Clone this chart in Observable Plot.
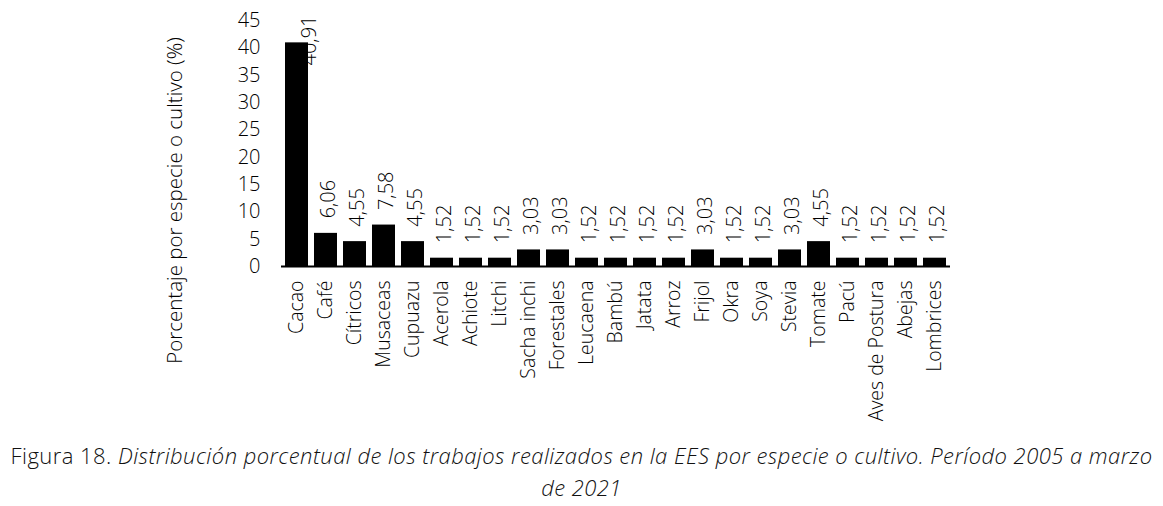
<!DOCTYPE html>
<html>
<head>
<meta charset="utf-8">
<script src="https://cdn.jsdelivr.net/npm/d3@7"></script>
<script src="https://cdn.jsdelivr.net/npm/@observablehq/plot@0.6"></script>
<style>
  html, body { margin: 0; padding: 0; background: #fff; }
  #chart { width: 1163px; }
  svg { display: block; }
  .caption { font-family: "Open Sans", sans-serif; font-weight: 300; font-size: 22px; color: #111; text-align: center; line-height: 32px; margin-top: 11px; width: 1163px; letter-spacing: 0.45px; white-space: nowrap; }
</style>
</head>
<body>
<div id="chart"></div>
<div class="caption">Figura 18. <i>Distribución porcentual de los trabajos realizados en la EES por especie o cultivo. Período 2005 a marzo<br>de 2021</i></div>
<script>
const categories = ["Cacao","Café","Cítricos","Musaceas","Cupuazu","Acerola","Achiote","Litchi","Sacha inchi","Forestales","Leucaena","Bambú","Jatata","Arroz","Frijol","Okra","Soya","Stevia","Tomate","Pacú","Aves de Postura","Abejas","Lombrices"];
const values = [40.91,6.06,4.55,7.58,4.55,1.52,1.52,1.52,3.03,3.03,1.52,1.52,1.52,1.52,3.03,1.52,1.52,3.03,4.55,1.52,1.52,1.52,1.52];
const yTicks = [0,5,10,15,20,25,30,35,40,45];
const yTitle = "Porcentaje por especie o cultivo (%)";

const data = categories.map((c, i) => ({cat: c, value: values[i]}));
const fmt = v => v.toFixed(2).replace(".", ",");
const yMax = d3.max(yTicks);

const plot = Plot.plot({
  width: 1163,
  height: 428,
  marginLeft: 281,
  marginRight: 213,
  marginTop: 20,
  marginBottom: 162,
  style: {fontFamily: "'Open Sans', sans-serif", fontWeight: 300, color: "#000", background: "#fff"},
  x: {domain: categories, paddingInner: 0.22, paddingOuter: 0.12},
  y: {domain: [0, yMax]},
  marks: [
    Plot.barY(data, {x: "cat", y: "value", fill: "#000"}),
    Plot.ruleY([0], {stroke: "#000", strokeWidth: 2}),
    Plot.ruleX([0], {x: () => null, frameAnchor: "left", y1: 0, y2: yMax, stroke: "#000", strokeWidth: 1.5}),
    Plot.axisY({ticks: yTicks, tickSize: 0, tickPadding: 21, fontSize: 20, label: null}),
    Plot.axisX({tickSize: 0, tickRotate: -90, tickPadding: 14, fontSize: 19.5, label: null}),
    Plot.text(data.filter(d => d.value + 6 < yMax), {x: "cat", y: "value", text: d => fmt(d.value), rotate: -90, textAnchor: "start", dy: -15, dx: 3, fontSize: 20}),
    Plot.text(data.filter(d => d.value + 6 >= yMax), {x: "cat", y: () => yMax, text: d => fmt(d.value), rotate: -90, textAnchor: "end", dy: -5, dx: 13, fontSize: 20}),
    Plot.text([yTitle], {frameAnchor: "left", textAnchor: "middle", rotate: -90, dx: -106, dy: 57, fontSize: 20.5})
  ]
});
document.getElementById("chart").appendChild(plot);
</script>
</body>
</html>
